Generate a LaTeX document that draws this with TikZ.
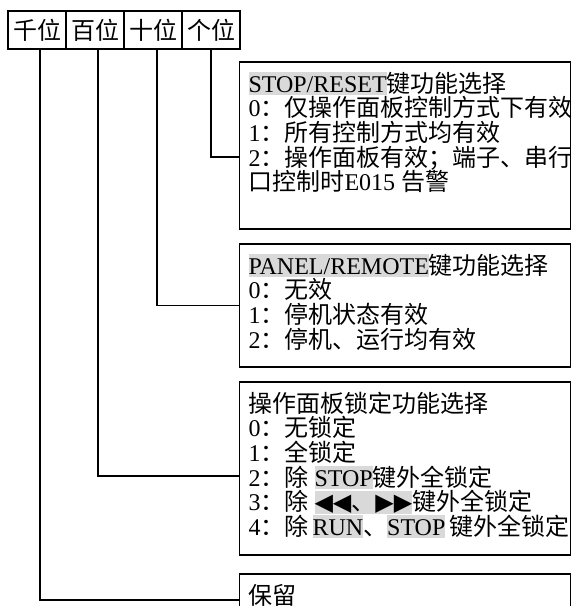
\documentclass[tikz,border=0pt]{standalone}
\usepackage{fontspec}
\setmainfont{Liberation Serif}
\newfontfamily\zhfont{Noto Sans CJK SC}
\newfontfamily\arrfont{DejaVu Sans}
\usetikzlibrary{positioning}
\definecolor{keygray}{RGB}{217,217,217}
\newcommand{\zh}[1]{{\zhfont #1}}
\newcommand{\keyhl}[1]{{\setlength{\fboxsep}{0pt}\colorbox{keygray}{\rule[-1.5pt]{0pt}{11.5pt}#1}}}

\begin{document}
\begin{tikzpicture}[x=0.5pt,y=-0.5pt,
  font=\fontsize{12}{12.3}\selectfont,
  digit/.style={draw,line width=0.9pt,outer sep=0pt,inner xsep=2.5pt,inner ysep=0pt,minimum height=19pt},
  panel/.style={draw,line width=0.9pt,anchor=north west,inner xsep=4.5pt,inner ysep=5pt,outer sep=0pt},
  link/.style={line width=0.8pt},
]
  \useasboundingbox (0,0) rectangle (573,606);

  % digit header
  \node[digit,anchor=north west] (qian) at (8,11) {\zh{千位}};
  \node[digit,right=0pt of qian] (bai) {\zh{百位}};
  \node[digit,right=0pt of bai] (shi) {\zh{十位}};
  \node[digit,right=0pt of shi] (ge) {\zh{个位}};

  % function panels
  \node[panel] (stopkey) at (239.5,62) {\parbox[c][73.5pt][t]{156.5pt}{%
    \keyhl{STOP/RESET}\zh{键功能选择}\\
    0\zh{：仅操作面板控制方式下有效}\\
    1\zh{：所有控制方式均有效}\\
    2\zh{：操作面板有效；端子、串行}\\
    \zh{口控制时}E015~\zh{告警}}};
  \node[panel] (panelkey) at (239.5,244) {\parbox[c][51.5pt][t]{156.5pt}{%
    \keyhl{PANEL/REMOTE}\zh{键功能选择}\\
    0\zh{：无效}\\
    1\zh{：停机状态有效}\\
    2\zh{：停机、运行均有效}}};
  \node[panel] (lockkey) at (239.5,382) {\parbox[c][76.5pt][t]{156.5pt}{%
    \zh{操作面板锁定功能选择}\\
    0\zh{：无锁定}\\
    1\zh{：全锁定}\\
    2\zh{：除}~\keyhl{STOP}\zh{键外全锁定}\\
    3\zh{：除}~\keyhl{\arrfont ◀◀\zh{、}▶▶}\zh{键外全锁定}\\
    4\zh{：除}\,\keyhl{RUN}\zh{、}\keyhl{STOP}\,\zh{键外全锁定}}};
  \node[panel] (keep) at (239.5,574) {\parbox[c][24pt][t]{156.5pt}{\zh{保留}}};

  % digit to panel links
  \draw[link] (ge.south) |- ([yshift=-5.75pt]stopkey.west);
  \draw[link] ([xshift=2pt]shi.south) |- (panelkey.west);
  \draw[link] ([xshift=1.5pt]bai.south) |- ([yshift=-3.75pt]lockkey.west);
  \draw[link] ([xshift=1.5pt]qian.south) |- ([yshift=4pt]keep.west);
\end{tikzpicture}
\end{document}
